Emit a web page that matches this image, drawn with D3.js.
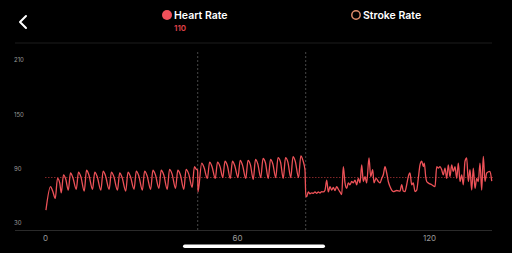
<!DOCTYPE html>
<html>
<head>
<meta charset="utf-8">
<script src="https://cdn.jsdelivr.net/npm/d3@7"></script>
<style>
  html, body { margin: 0; padding: 0; background: #000; }
  svg { display: block; font-family: Inter, "Noto Sans", sans-serif; }
</style>
</head>
<body>
<svg width="512" height="253"></svg>
<script>
// Heart rate samples [time, bpm]
const hrPart1 = [
  [0.3,44],[1.72,70],[2.4,65],[3.21,57],
  [3.91,79],[4.6,74],[5.08,63],
  [5.78,83],[6.5,78],[7.27,66],
  [7.97,85],[8.7,80],[9.77,67],
  [10.47,86],[11.2,81],[12.27,65],
  [12.97,88],[13.7,83],[14.86,67],
  [15.56,86],[16.3,81],[17.46,66],
  [18.16,87],[18.9,82],[20.05,67],
  [20.75,86],[21.5,81],[22.64,66],
  [23.34,85],[24.1,80],[25.24,65],
  [25.94,86],[26.7,81],[27.83,67],
  [28.53,87],[29.3,82],[30.43,66],
  [31.13,87],[31.9,82],[33.02,67],
  [33.72,88],[34.5,83],[35.61,68],
  [36.31,88],[37.1,83],[38.21,67],
  [38.91,89],[39.7,84],[40.8,68],
  [41.5,88],[42.3,83],[43.39,67],
  [44.09,89],[44.9,84],[45.99,69],
  [46.69,92],[47.3,89],[47.7,88]
];
const hrPart2 = [
  [47.8,64],
  [48.97,96],[49.7,91],[50.74,79],
  [51.44,97],[52.2,92],[53.21,79],
  [53.91,97],[54.7,92],[55.55,80],
  [56.25,98],[57.0,93],[57.89,79],
  [58.59,98],[59.3,93],[60.3,80],
  [61.0,99],[61.7,94],[62.74,79],
  [63.44,99],[64.2,94],[65.08,78],
  [65.78,100],[66.5,95],[67.43,80],
  [68.13,101],[68.9,96],[69.77,79],
  [70.47,100],[71.2,95],[72.11,80],
  [72.81,102],[73.6,97],[74.46,79],
  [75.16,102],[75.9,97],[76.8,80],
  [77.5,103],[78.2,98],[79.24,80],
  [79.94,104],[80.6,99],[81.25,88]
];
const hrPart3 = [
  [81.5,59],[81.77,59],[82.28,64],[82.81,62],[83.34,63],[83.84,62.6],[84.38,64],
  [84.9,62.6],[85.41,64],[85.94,63],[86.47,64.4],[86.97,64],[87.5,66],[88.03,77],
  [88.53,64],[89.06,70],[89.59,66],[90.09,69],[90.63,65.6],[91.16,70],[91.66,67],
  [92.19,64],[92.72,61],[93.22,92],[93.75,74],[94.28,68],[94.78,74],[95.31,72],
  [95.84,75.6],[96.34,74],[96.88,77],[97.41,72],[97.91,79],[98.44,74],[98.97,94],
  [99.47,75.6],[100,81],[100.53,74],[101.25,101.6],[101.78,81],[102.41,88.6],
  [102.81,74],[103.44,79],[104.16,75.6],[104.69,74],[105.22,79],[105.72,83],
  [106.25,92],[106.78,85],[107.28,75.6],[107.81,70],[108.34,66],[108.84,64.4],
  [109.91,65.6],[110.94,65],[111.47,72],[111.97,65],[112.5,64.4],[113.03,72],
  [113.53,81],[114.06,85],[114.59,72],[115.09,74],[115.63,64.4],[116.16,66],
  [116.66,79],[117.19,94],[117.72,98],[118.22,92],[118.53,96],[118.97,81],
  [119.28,75.6],[119.78,74],[120.84,72],[121.88,70],[122.41,92],[122.91,90.4],
  [123.44,92],[123.97,88.6],[124.47,83],[125,90.4],[125.53,79],[126.03,94],
  [126.56,81],[127.09,94],[127.59,86.7],[128.13,92],[128.66,79],[129.16,96],
  [129.69,75.6],[130.22,83],[130.72,72],[131.25,98],[131.78,101.6],[132.28,75.6],
  [132.81,88.6],[133.34,66],[133.84,90.4],[134.38,68],[134.91,79],[135.41,75.6],
  [135.94,96],[136.47,66],[136.97,103.3],[137.5,75.6],[138.03,85],[139.06,86.7],
  [139.6,76]
];
const heartRate = hrPart1.concat(hrPart2, hrPart3);

const lapTimes = [47.72, 81.47];
const avgHeartRate = 80;
const yTicks = [30, 90, 150, 210];
const xTicks = [0, 60, 120];
const currentHeartRate = 110;

const svg = d3.select('svg');

const xScale = d3.scaleLinear().domain([0, 140]).range([45, 493]);
const yScale = d3.scaleLinear().domain([30, 210]).range([222.7, 60]);

// frame lines
svg.append('line')
  .attr('x1', 15).attr('x2', 492).attr('y1', 43).attr('y2', 43)
  .attr('stroke', '#1c1c1c').attr('stroke-width', 1);
svg.append('line')
  .attr('x1', 15).attr('x2', 492).attr('y1', 230.5).attr('y2', 230.5)
  .attr('stroke', '#2a2a2a').attr('stroke-width', 1);

// lap separators
svg.selectAll('.lap').data(lapTimes).enter()
  .append('line')
  .attr('class', 'lap')
  .attr('x1', d => xScale(d)).attr('x2', d => xScale(d))
  .attr('y1', 52).attr('y2', 230)
  .attr('stroke', '#5a5a5a')
  .attr('stroke-width', 0.8)
  .attr('stroke-dasharray', '2,2');

// average line
svg.append('line')
  .attr('x1', xScale(0)).attr('x2', xScale(140))
  .attr('y1', yScale(avgHeartRate)).attr('y2', yScale(avgHeartRate))
  .attr('stroke', '#8e2a2c')
  .attr('stroke-width', 0.9)
  .attr('stroke-dasharray', '1.5,1.5');

// y axis labels
const yAxis = svg.append('g')
  .attr('transform', 'translate(11,0)')
  .call(d3.axisRight(yScale).tickValues(yTicks).tickSize(0).tickPadding(3));
yAxis.select('.domain').remove();
yAxis.selectAll('text')
  .attr('fill', '#9a9a9a')
  .style('font-size', '6px')
  .style('font-family', 'Inter, sans-serif');

// x axis labels
const xAxis = svg.append('g')
  .attr('transform', 'translate(0,235)')
  .call(d3.axisBottom(xScale).tickValues(xTicks).tickSize(0).tickPadding(0));
xAxis.select('.domain').remove();
xAxis.selectAll('text')
  .attr('fill', '#9a9a9a')
  .style('font-size', '8px')
  .style('font-family', 'Inter, sans-serif');

// heart rate line
const line = d3.line()
  .x(d => xScale(d[0]))
  .y(d => yScale(d[1]))
  .curve(d3.curveMonotoneX);

svg.append('path')
  .datum(heartRate)
  .attr('d', line)
  .attr('fill', 'none')
  .attr('stroke', '#ee5258')
  .attr('stroke-width', 1.3)
  .attr('stroke-linejoin', 'round');

// header: back chevron
svg.append('path')
  .attr('d', 'M26,16 L20,22 L26,28')
  .attr('fill', 'none')
  .attr('stroke', '#fff')
  .attr('stroke-width', 2)
  .attr('stroke-linecap', 'round')
  .attr('stroke-linejoin', 'round');

// legend
svg.append('circle')
  .attr('cx', 167).attr('cy', 15).attr('r', 5)
  .attr('fill', '#f0505a');
svg.append('text')
  .attr('x', 174).attr('y', 19)
  .attr('fill', '#fff')
  .style('font-size', '10.5px')
  .style('font-weight', 600)
  .text('Heart Rate');
svg.append('text')
  .attr('x', 174).attr('y', 30.5)
  .attr('fill', '#e0434b')
  .style('font-size', '8px')
  .style('font-weight', 600)
  .text(currentHeartRate);

svg.append('circle')
  .attr('cx', 356).attr('cy', 15).attr('r', 4.2)
  .attr('fill', 'none')
  .attr('stroke', '#dd8c6c')
  .attr('stroke-width', 1.5);
svg.append('text')
  .attr('x', 363).attr('y', 19)
  .attr('fill', '#fff')
  .style('font-size', '10.5px')
  .style('font-weight', 600)
  .text('Stroke Rate');

// home indicator
svg.append('rect')
  .attr('x', 183).attr('y', 244.5)
  .attr('width', 142).attr('height', 3.5)
  .attr('rx', 1.75)
  .attr('fill', '#fff');
</script>
</body>
</html>
